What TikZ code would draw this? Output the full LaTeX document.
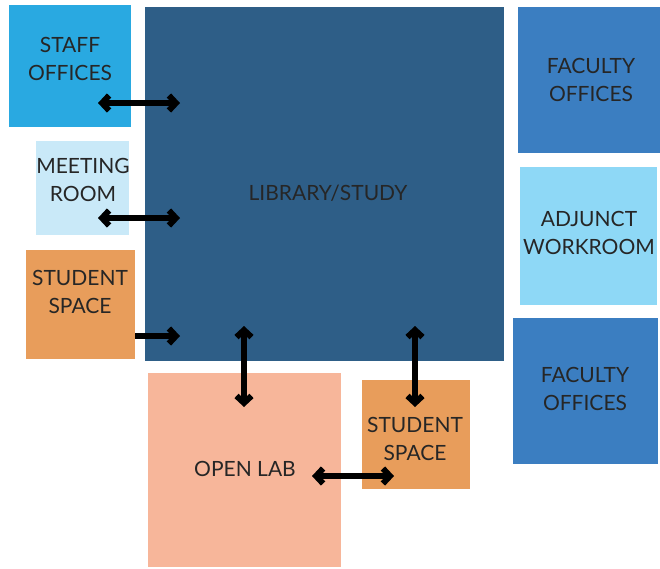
\documentclass[tikz,border=0pt]{standalone}
\usepackage{fontspec}
\setmainfont{Lato}
\usetikzlibrary{arrows.meta}
\definecolor{staffc}{HTML}{29A9E1}
\definecolor{libc}{HTML}{2E5E87}
\definecolor{meetc}{HTML}{C9E9F8}
\definecolor{studc}{HTML}{E89D5B}
\definecolor{labc}{HTML}{F7B69A}
\definecolor{facc}{HTML}{3B7EC1}
\definecolor{adjc}{HTML}{8ED8F6}
\tikzset{
  room/.style={fill=#1, draw=none},
  lbl/.style={font=\fontsize{21}{28}\selectfont, align=center, text=black!85, inner sep=0pt},
  tipb/.tip={Straight Barb[length=7pt,width=15pt,line width=6pt,line join=miter]},
  conn/.style={line width=6.5pt, tipb-tipb},
  conn1/.style={line width=6.5pt, -tipb}
}
\begin{document}
\begin{tikzpicture}[x=1pt,y=-1pt]
\useasboundingbox (0,0) rectangle (660,568);
% rooms
\fill[room=libc] (145,7) rectangle (504,361);
\fill[room=staffc] (9,5) rectangle (131,127);
\fill[room=meetc] (36,141) rectangle (129,235);
\fill[room=studc] (26,250) rectangle (135,359);
\fill[room=labc] (148,373) rectangle (341,567);
\fill[room=studc] (362,380) rectangle (470,489);
\fill[room=facc] (518,7) rectangle (660,153);
\fill[room=adjc] (520,167) rectangle (657,305);
\fill[room=facc] (513,318) rectangle (658,464);
% labels
\node[lbl] (staff) at (70,59) {STAFF\\OFFICES};
\node[lbl] (lib) at (328,193) {LIBRARY/STUDY};
\node[lbl] (meet) at (83,180) {MEETING\\ROOM};
\node[lbl] (studl) at (80,292) {STUDENT\\SPACE};
\node[lbl] (lab) at (245,469) {OPEN LAB};
\node[lbl] (studr) at (415,439) {STUDENT\\SPACE};
\node[lbl] (fac1) at (591,80) {FACULTY\\OFFICES};
\node[lbl] (adj) at (589,233) {ADJUNCT\\WORKROOM};
\node[lbl] (fac2) at (585,389) {FACULTY\\OFFICES};
% connector ends
\coordinate (a1) at (98,103); \coordinate (a2) at (180,103);
\coordinate (b1) at (98,218); \coordinate (b2) at (180,218);
\coordinate (c1) at (135,336); \coordinate (c2) at (180,336);
\coordinate (d1) at (244,326); \coordinate (d2) at (244,407);
\coordinate (e1) at (415,326); \coordinate (e2) at (415,407);
\coordinate (f1) at (312,476); \coordinate (f2) at (394,476);
\draw[conn] (a1) -- (a2);
\draw[conn] (b1) -- (b2);
\draw[conn1] (c1) -- (c2);
\draw[conn] (d1) -- (d2);
\draw[conn] (e1) -- (e2);
\draw[conn] (f1) -- (f2);
\end{tikzpicture}
\end{document}
